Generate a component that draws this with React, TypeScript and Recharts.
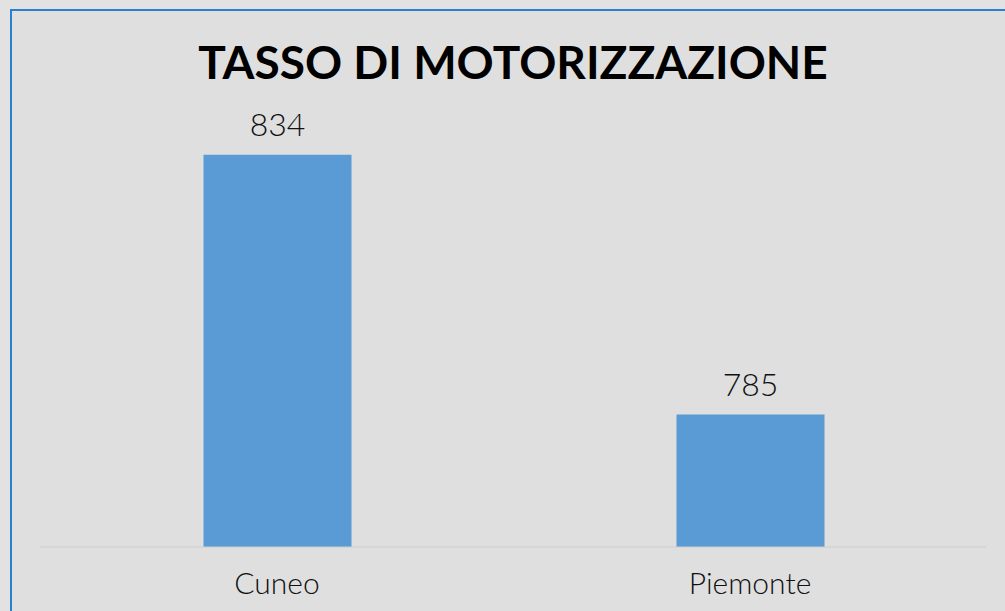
import React from 'react';
import { BarChart, Bar, XAxis, YAxis, LabelList } from 'recharts';

const categories = ['Cuneo', 'Piemonte'];
const values = [834, 785];
const yDomain = [760, 840];
const title = 'TASSO DI MOTORIZZAZIONE';

const data = categories.map((c, i) => ({ name: c, value: values[i] }));

const FONT = 'Lato, "DejaVu Sans", sans-serif';

export default function App() {
  return (
    <div style={{ position: 'fixed', left: 0, top: 0, width: 1005, height: 611, background: '#e2e2e2', overflow: 'hidden', fontFamily: FONT }}>
      <div style={{ position: 'absolute', left: 10, top: 9, width: 1100, height: 700, borderLeft: '2px solid #2a7fd2', borderTop: '2px solid #2a7fd2', background: '#dfdfdf' }} />
      <div style={{ position: 'absolute', left: 0, top: 32, width: 1026, textAlign: 'center', fontSize: 46, lineHeight: '60px', fontWeight: 700, color: '#000', fontFamily: 'Lato, sans-serif', letterSpacing: 0 }}>
        {title}
      </div>
      <div style={{ position: 'absolute', left: 0, top: 0 }}>
        <BarChart width={1005} height={611} data={data} margin={{ top: 123, right: 18.5, bottom: 0, left: 40.5 }}>
          <YAxis hide domain={yDomain} allowDataOverflow />
          <XAxis
            dataKey="name"
            height={64}
            axisLine={{ stroke: '#cdcdcd', strokeWidth: 1 }}
            tickLine={false}
            tickMargin={20}
            tick={{ fontSize: 30, fill: '#111', fontFamily: FONT, fontWeight: 300 }}
          />
          <Bar dataKey="value" fill="#5b9bd5" barSize={148} isAnimationActive={false}>
            <LabelList dataKey="value" position="top" offset={19} style={{ fontSize: 32, fill: '#111', fontFamily: FONT, fontWeight: 300 }} />
          </Bar>
        </BarChart>
      </div>
    </div>
  );
}
